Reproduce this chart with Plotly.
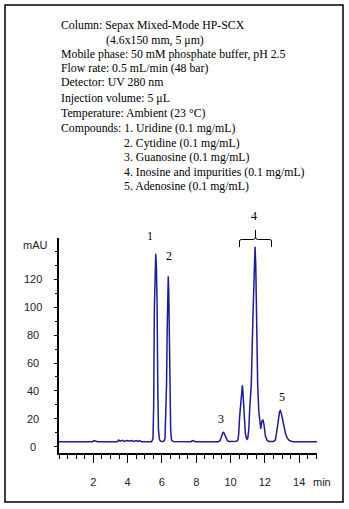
import plotly.graph_objects as go

# ---------------- data ----------------
time_min = [0.00, 1.95, 2.05, 2.15, 2.25, 3.40, 3.48, 3.56, 3.70, 3.80, 3.95, 4.10, 4.25, 4.35,
            4.50, 4.60, 4.70, 4.80, 5.40, 5.48, 5.52, 5.56, 5.60, 5.64, 5.68, 5.72, 5.76, 5.80,
            5.86, 5.95, 6.05, 6.12, 6.18, 6.22, 6.27, 6.31, 6.34, 6.37, 6.40, 6.43, 6.47, 6.51,
            6.56, 6.65, 7.70, 7.78, 7.86, 7.95, 9.30, 9.38, 9.46, 9.54, 9.60, 9.66, 9.74, 9.82,
            9.92, 10.35, 10.43, 10.48, 10.53, 10.61, 10.66, 10.69, 10.72, 10.77, 10.82, 10.86,
            10.92, 10.96, 11.00, 11.06, 11.12, 11.21, 11.31, 11.37, 11.43, 11.47, 11.50, 11.58,
            11.65, 11.70, 11.76, 11.82, 11.89, 11.95, 12.03, 12.12, 12.22, 12.50, 12.61, 12.67,
            12.73, 12.80, 12.86, 12.90, 12.95, 13.04, 13.12, 13.20, 13.30, 13.39, 13.50, 13.65,
            15.04]
signal_mau = [3.8, 3.8, 4.6, 4.3, 3.8, 3.8, 5.0, 4.2, 4.7, 4.0, 4.6, 4.3, 4.6, 4.0,
              4.6, 3.9, 4.5, 3.8, 3.8, 6.0, 30.0, 100.0, 125.0, 138.0, 128.0, 100.0, 40.0, 12.0,
              5.0, 4.0, 3.9, 4.2, 6.0, 25.0, 45.0, 86.0, 110.0, 122.0, 110.0, 86.0, 40.0, 12.0,
              5.0, 3.9, 3.8, 4.6, 4.3, 3.8, 3.8, 4.5, 7.0, 10.0, 10.5, 9.0, 6.0, 4.5,
              3.9, 4.0, 5.0, 10.0, 21.7, 36.0, 43.0, 44.0, 40.0, 28.8, 16.0, 9.8,
              6.5, 5.5, 6.0, 12.0, 28.0, 45.0, 95.0, 130.0, 143.0, 130.0, 95.0, 45.0,
              25.0, 18.0, 13.0, 18.0, 19.5, 16.0, 8.0, 5.0, 4.0, 4.0, 5.0, 9.0,
              14.5, 21.0, 25.5, 26.0, 24.5, 19.3, 14.0, 9.8, 6.5, 5.0, 4.2, 3.8,
              3.8]

x_tick_values = [2, 4, 6, 8, 10, 12, 14]
x_tick_labels = ["2", "4", "6", "8", "10", "12", "14"]
y_tick_values = [0, 20, 40, 60, 80, 100, 120]
y_tick_labels = ["0", "20", "40", "60", "80", "100", "120"]

peak_names = ["1", "2", "3", "4", "5"]

conditions = [
    "Column: Sepax Mixed-Mode HP-SCX",
    "(4.6x150 mm, 5 μm)",
    "Mobile phase: 50 mM phosphate buffer, pH 2.5",
    "Flow rate: 0.5 mL/min (48 bar)",
    "Detector: UV 280 nm",
    "Injection volume: 5 μL",
    "Temperature: Ambient (23 °C)",
    "Compounds: 1. Uridine (0.1 mg/mL)",
    "2. Cytidine (0.1 mg/mL)",
    "3. Guanosine (0.1 mg/mL)",
    "4. Inosine and impurities (0.1 mg/mL)",
    "5. Adenosine (0.1 mg/mL)",
]

# ---------------- layout helpers ----------------
W, H = 349, 509
L, R, T, B = 59, 32, 238, 56
PW, PH = W - L - R, H - T - B


def px(x):
    return (x - L) / PW


def py(y):
    return (H - B - y) / PH


SERIF = "Liberation Serif"
SANS = "Liberation Sans"
TICKFONT = dict(family=SANS, size=11, color="#222")

fig = go.Figure()
fig.add_trace(go.Scatter(
    x=time_min, y=signal_mau, mode="lines",
    line=dict(color="#1c1c96", width=1.5),
    hoverinfo="skip", showlegend=False,
))

annotations = []
# condition text block
cond_pos = [(59, 25), (104, 40), (59, 54), (59, 68), (59, 82), (59, 98), (59, 113),
            (59, 128), (122, 143), (122, 157), (122, 172), (122, 186)]
for txt, (xx, yy) in zip(conditions, cond_pos):
    annotations.append(dict(text=txt, x=px(xx), y=py(yy), xref="paper", yref="paper",
                            xanchor="left", yanchor="middle", showarrow=False,
                            font=dict(family=SERIF, size=11.8, color="black")))

# peak labels
lab_pos = [(150, 236), (169, 256), (221, 419), (254, 216), (282, 397)]
for name, (xx, yy) in zip(peak_names, lab_pos):
    annotations.append(dict(text=name, x=px(xx), y=py(yy), xref="paper", yref="paper",
                            xanchor="center", yanchor="middle", showarrow=False,
                            font=dict(family=SERIF, size=12, color="black")))

# y tick labels (centred in a column left of the axis, as in the original)
for val, txt in zip(y_tick_values, y_tick_labels):
    annotations.append(dict(text=txt, x=px(32.5), y=val, xref="paper", yref="y",
                            xanchor="center", yanchor="middle", showarrow=False,
                            font=TICKFONT))

# axis unit labels
annotations.append(dict(text="mAU", x=px(35), y=py(245), xref="paper", yref="paper",
                        xanchor="center", yanchor="middle", showarrow=False,
                        font=TICKFONT))
annotations.append(dict(text="min", x=px(311), y=py(481.5), xref="paper", yref="paper",
                        xanchor="left", yanchor="middle", showarrow=False,
                        font=TICKFONT))

shapes = []
# outer frame
shapes.append(dict(type="rect", xref="paper", yref="paper",
                   x0=px(5), x1=px(343), y0=py(5), y1=py(502),
                   line=dict(color="black", width=1.5)))
# brace over peak group 4
bx0, bx1, bm = 239.5, 271.5, 255.5
by_end, by_bar, by_tip = 247, 239.5, 230
path = (f"M {px(bx0)},{py(by_end)} L {px(bx0)},{py(by_bar + 1.5)} "
        f"Q {px(bx0)},{py(by_bar)} {px(bx0 + 2)},{py(by_bar)} "
        f"L {px(bm - 2)},{py(by_bar)} Q {px(bm)},{py(by_bar)} {px(bm)},{py(by_bar - 3)} "
        f"L {px(bm)},{py(by_tip)} M {px(bm)},{py(by_bar - 3)} "
        f"Q {px(bm)},{py(by_bar)} {px(bm + 2)},{py(by_bar)} "
        f"L {px(bx1 - 2)},{py(by_bar)} Q {px(bx1)},{py(by_bar)} {px(bx1)},{py(by_bar + 1.5)} "
        f"L {px(bx1)},{py(by_end)}")
shapes.append(dict(type="path", xref="paper", yref="paper", path=path,
                   line=dict(color="black", width=1)))

fig.update_layout(
    width=W, height=H,
    margin=dict(l=L, r=R, t=T, b=B, pad=0),
    paper_bgcolor="white", plot_bgcolor="white",
    showlegend=False,
    annotations=annotations,
    shapes=shapes,
    xaxis=dict(
        range=[0, 15.04], showgrid=False, zeroline=False,
        showline=True, linecolor="black", linewidth=1.5,
        tickmode="array", tickvals=x_tick_values, ticktext=x_tick_labels,
        ticks="outside", ticklen=8, tickwidth=1, tickcolor="black",
        minor=dict(dtick=0.5, tick0=0, ticks="outside", ticklen=4, tickwidth=1, tickcolor="black"),
        tickfont=TICKFONT,
        ticklabelstandoff=10,
    ),
    yaxis=dict(
        range=[-4.3, 149.3], showgrid=False, zeroline=False,
        showline=True, linecolor="black", linewidth=1.5,
        tickmode="array", tickvals=y_tick_values, showticklabels=False,
        ticks="outside", ticklen=3, tickwidth=1, tickcolor="black",
        minor=dict(dtick=10, tick0=0, ticks="outside", ticklen=2, tickwidth=1, tickcolor="black"),
    ),
)

fig.write_html("out.html")
